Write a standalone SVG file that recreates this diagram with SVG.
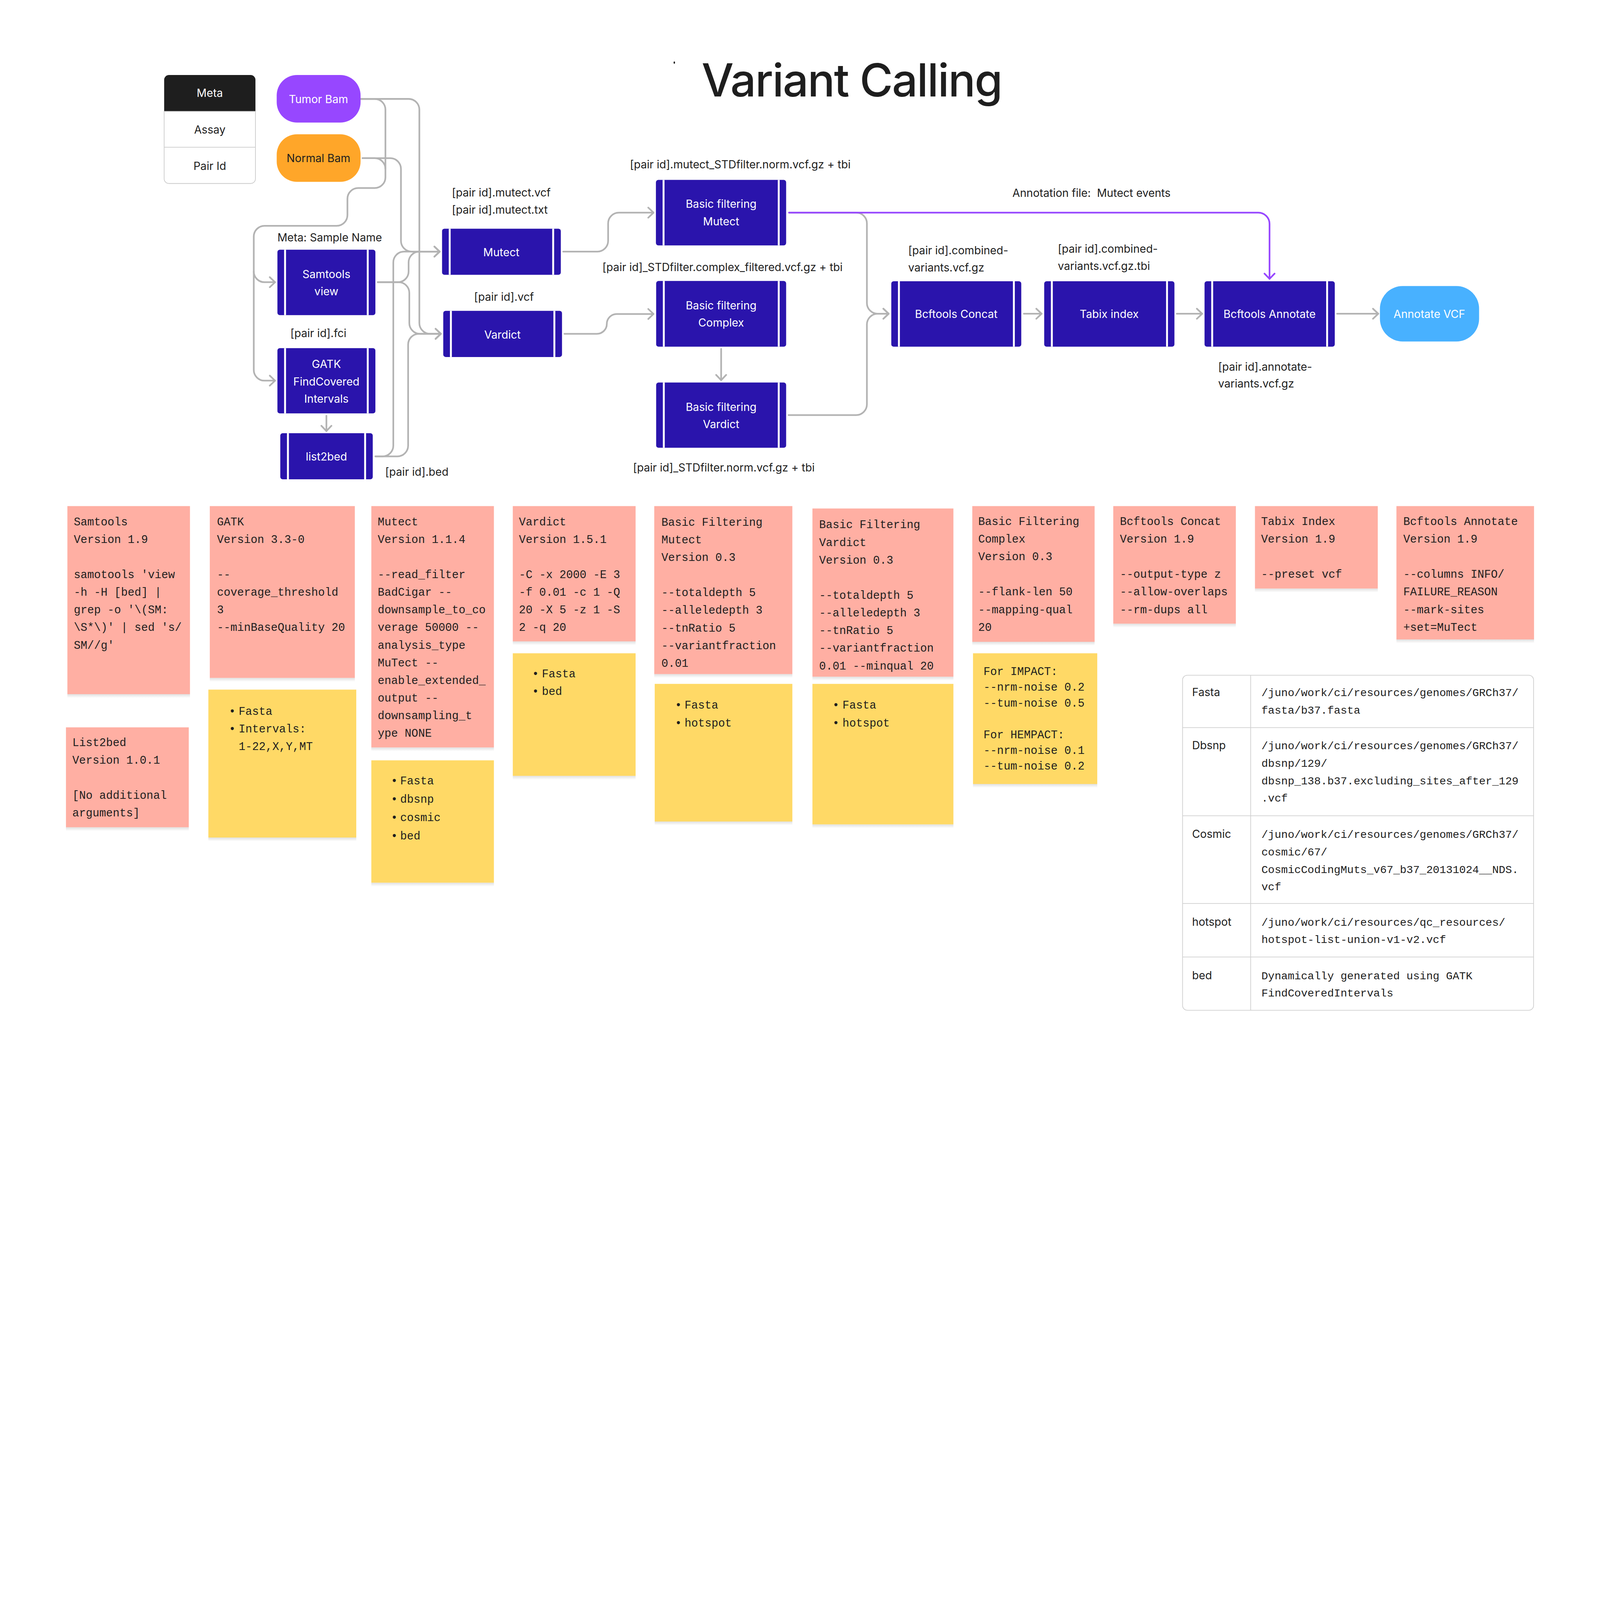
<svg xmlns="http://www.w3.org/2000/svg" width="6696" height="4486" viewBox="0 0 6696 4486" preserveAspectRatio="xMinYMin meet">
<!-- Root is sized to the viewport (100vw x 100vh): identical at a 6696x4486 window; if the window is smaller, the full viewBox is scaled to fit instead of being clipped. -->
<style>
svg{width:100vw;height:100vh;display:block}
.sans{font-family:Inter,"Noto Sans","Liberation Sans",sans-serif}
.lbl{font-family:Inter,"Noto Sans","Liberation Sans",sans-serif;font-size:46px;fill:#1E1E1E}
.nt{font-family:Inter,"Noto Sans","Liberation Sans",sans-serif;font-size:46px;fill:#FFFFFF;text-anchor:middle}
.mono{font-family:"Liberation Mono","DejaVu Sans Mono",monospace;font-size:47px;fill:#1E1E1E;white-space:pre}
.tm{font-family:"Liberation Mono","DejaVu Sans Mono",monospace;font-size:46px;fill:#1E1E1E;white-space:pre}
.pink{fill:#FFAFA3}
.yel{fill:#FFD966}
.shd{fill:url(#shg)}
.proc{fill:#2A14AC}
.bar{stroke:#FFFFFF;stroke-width:8}
.cn{fill:none;stroke:#B3B3B3;stroke-width:7;stroke-linecap:round;stroke-linejoin:round;marker-end:url(#arr)}
.cnn{fill:none;stroke:#B3B3B3;stroke-width:7;stroke-linecap:round;stroke-linejoin:round}
.cp{fill:none;stroke:#9747FF;stroke-width:7;stroke-linecap:round;stroke-linejoin:round;marker-end:url(#arrp)}
.grid{stroke:#D0D0D0;stroke-width:3;fill:none}
</style>
<defs>
<linearGradient id="shg" x1="0" y1="0" x2="0" y2="1">
<stop offset="0" stop-color="#000000" stop-opacity="0.12"/>
<stop offset="1" stop-color="#000000" stop-opacity="0"/>
</linearGradient>
<marker id="arr" viewBox="-27 -26 31 52" refX="0" refY="0" markerWidth="31" markerHeight="52" markerUnits="userSpaceOnUse" orient="auto">
<path d="M-22,-21 L0,0 L-22,21" fill="none" stroke="#B3B3B3" stroke-width="7" stroke-linecap="round" stroke-linejoin="round"/>
</marker>
<marker id="arrp" viewBox="-27 -26 31 52" refX="0" refY="0" markerWidth="31" markerHeight="52" markerUnits="userSpaceOnUse" orient="auto">
<path d="M-22,-21 L0,0 L-22,21" fill="none" stroke="#9747FF" stroke-width="7" stroke-linecap="round" stroke-linejoin="round"/>
</marker>
</defs>
<rect x="0" y="0" width="6696" height="4486" fill="#FFFFFF"/>

<g id="title">
<ellipse cx="2822" cy="262" rx="3" ry="5" fill="#1E1E1E"/>
<text class="sans" x="2936" y="403" font-size="190" font-weight="500" letter-spacing="-4" fill="#1E1E1E">Variant Calling</text>
</g>

<g id="meta-table">
<path d="M687,466 V334 A20,20 0 0 1 707,314 H1049 A20,20 0 0 1 1069,334 V466 Z" fill="#1E1E1E"/>
<path d="M687,466 H1069 V748 A20,20 0 0 1 1049,768 H707 A20,20 0 0 1 687,748 Z" fill="#FFFFFF" stroke="#CCCCCC" stroke-width="3"/>
<line x1="687" y1="616" x2="1069" y2="616" stroke="#CCCCCC" stroke-width="3"/>
<text class="nt" x="878" y="406">Meta</text>
<text class="lbl" x="878" y="559" text-anchor="middle" fill="#333333">Assay</text>
<text class="lbl" x="878" y="711" text-anchor="middle" fill="#333333">Pair Id</text>
</g>

<g id="connectors">
<path class="cn" d="M1509,414 H1568 A45,45 0 0 1 1613,459 V742 A45,45 0 0 1 1568,787 H1499 A45,45 0 0 0 1454,832 V900 A45,45 0 0 1 1409,945 H1107 A45,45 0 0 0 1062,990 V1548 A45,45 0 0 0 1107,1593 H1151"/>
<path class="cn" d="M1062,1136 A45,45 0 0 0 1107,1181 H1151"/>
<path class="cnn" d="M1517,662 H1568 A45,45 0 0 1 1613,707"/>
<path class="cn" d="M1517,662 H1633 A45,45 0 0 1 1678,707 V1008 A45,45 0 0 0 1723,1053 H1840"/>
<path class="cn" d="M1509,414 H1710 A45,45 0 0 1 1755,459 V1352 A45,45 0 0 0 1800,1397 H1845"/>
<path class="cn" d="M1581,1181 H1665 A45,45 0 0 0 1710,1136 V1098 A45,45 0 0 1 1755,1053 H1840"/>
<path class="cn" d="M1581,1181 H1668 A45,45 0 0 1 1713,1226 V1352 A45,45 0 0 0 1758,1397 H1845"/>
<path class="cn" d="M1571,1910 H1601 A45,45 0 0 0 1646,1865 V1098 A45,45 0 0 1 1691,1053 H1840"/>
<path class="cn" d="M1571,1910 H1663 A45,45 0 0 0 1708,1865 V1442 A45,45 0 0 1 1753,1397 H1845"/>
<path class="cn" d="M1366,1740 V1804"/>
<path class="cn" d="M2357,1053 H2500 A45,45 0 0 0 2545,1008 V935 A45,45 0 0 1 2590,890 H2735"/>
<path class="cn" d="M2362,1397 H2498 A41.5,41.5 0 0 0 2539.5,1355.5 A41.5,41.5 0 0 1 2581,1314 H2735"/>
<path class="cn" d="M3018,1460 V1591"/>
<path class="cn" d="M3302,890 H3583 A45,45 0 0 1 3628,935 V1268 A45,45 0 0 0 3673,1313 H3719"/>
<path class="cn" d="M3300,1737 H3583 A45,45 0 0 0 3628,1692 V1358 A45,45 0 0 1 3673,1313 H3719"/>
<path class="cn" d="M4285,1313 H4359"/>
<path class="cn" d="M4925,1313 H5031"/>
<path class="cn" d="M5596,1313 H5768"/>
<path class="cp" d="M3302,890 H5266 A47,47 0 0 1 5313,937 V1167"/>
</g>

<g id="tumor-bam">
<rect x="1158" y="314" width="351" height="199" rx="85" fill="#9747FF"/>
<text class="nt" x="1333" y="431">Tumor Bam</text>
</g>
<g id="normal-bam">
<rect x="1158" y="562" width="351" height="199" rx="85" fill="#FFA629"/>
<text class="lbl" x="1333" y="679" text-anchor="middle">Normal Bam</text>
</g>

<g id="samtools-view">
<rect class="proc" x="1161" y="1045" width="410" height="274" rx="10"/>
<line class="bar" x1="1193" y1="1045" x2="1193" y2="1319"/><line class="bar" x1="1539" y1="1045" x2="1539" y2="1319"/>
<text class="nt" x="1366" y="1164">Samtools</text><text class="nt" x="1366" y="1236">view</text>
</g>
<g id="gatk">
<rect class="proc" x="1161" y="1457" width="410" height="273" rx="10"/>
<line class="bar" x1="1193" y1="1457" x2="1193" y2="1730"/><line class="bar" x1="1539" y1="1457" x2="1539" y2="1730"/>
<text class="nt" x="1366" y="1540">GATK</text><text class="nt" x="1366" y="1613">FindCovered</text><text class="nt" x="1366" y="1686">Intervals</text>
</g>
<g id="list2bed">
<rect class="proc" x="1173" y="1813" width="387" height="193" rx="10"/>
<line class="bar" x1="1205" y1="1813" x2="1205" y2="2006"/><line class="bar" x1="1528" y1="1813" x2="1528" y2="2006"/>
<text class="nt" x="1366" y="1928">list2bed</text>
</g>
<g id="mutect">
<rect class="proc" x="1850" y="957" width="497" height="193" rx="10"/>
<line class="bar" x1="1882" y1="957" x2="1882" y2="1150"/><line class="bar" x1="2315" y1="957" x2="2315" y2="1150"/>
<text class="nt" x="2098" y="1073">Mutect</text>
</g>
<g id="vardict">
<rect class="proc" x="1855" y="1301" width="497" height="193" rx="10"/>
<line class="bar" x1="1887" y1="1301" x2="1887" y2="1494"/><line class="bar" x1="2320" y1="1301" x2="2320" y2="1494"/>
<text class="nt" x="2103" y="1417">Vardict</text>
</g>
<g id="bf-mutect">
<rect class="proc" x="2745" y="753" width="545" height="274" rx="10"/>
<line class="bar" x1="2777" y1="753" x2="2777" y2="1027"/><line class="bar" x1="3259" y1="753" x2="3259" y2="1027"/>
<text class="nt" x="3018" y="870">Basic filtering</text><text class="nt" x="3018" y="943">Mutect</text>
</g>
<g id="bf-complex">
<rect class="proc" x="2746" y="1176" width="544" height="275" rx="10"/>
<line class="bar" x1="2778" y1="1176" x2="2778" y2="1451"/><line class="bar" x1="3259" y1="1176" x2="3259" y2="1451"/>
<text class="nt" x="3018" y="1295">Basic filtering</text><text class="nt" x="3018" y="1367">Complex</text>
</g>
<g id="bf-vardict">
<rect class="proc" x="2746" y="1601" width="544" height="273" rx="10"/>
<line class="bar" x1="2778" y1="1601" x2="2778" y2="1874"/><line class="bar" x1="3259" y1="1601" x2="3259" y2="1874"/>
<text class="nt" x="3018" y="1720">Basic filtering</text><text class="nt" x="3018" y="1792">Vardict</text>
</g>
<g id="bcftools-concat">
<rect class="proc" x="3730" y="1177" width="544" height="274" rx="10"/>
<line class="bar" x1="3762" y1="1177" x2="3762" y2="1451"/><line class="bar" x1="4243" y1="1177" x2="4243" y2="1451"/>
<text class="nt" x="4002" y="1331">Bcftools Concat</text>
</g>
<g id="tabix-index">
<rect class="proc" x="4370" y="1177" width="545" height="274" rx="10"/>
<line class="bar" x1="4402" y1="1177" x2="4402" y2="1451"/><line class="bar" x1="4884" y1="1177" x2="4884" y2="1451"/>
<text class="nt" x="4642" y="1331">Tabix index</text>
</g>
<g id="bcftools-annotate">
<rect class="proc" x="5041" y="1177" width="545" height="274" rx="10"/>
<line class="bar" x1="5073" y1="1177" x2="5073" y2="1451"/><line class="bar" x1="5554" y1="1177" x2="5554" y2="1451"/>
<text class="nt" x="5313" y="1331">Bcftools Annotate</text>
</g>
<g id="annotate-vcf">
<rect x="5775" y="1197" width="415" height="232" rx="95" fill="#48B1FF"/>
<text class="nt" x="5982" y="1331">Annotate VCF</text>
</g>

<g id="labels">
<text class="lbl" x="1161" y="1011">Meta: Sample Name</text>
<text class="lbl" x="1215" y="1411">[pair id].fci</text>
<text class="lbl" x="1612" y="1991">[pair id].bed</text>
<text class="lbl" x="1891" y="822">[pair id].mutect.vcf</text>
<text class="lbl" x="1891" y="894">[pair id].mutect.txt</text>
<text class="lbl" x="1984" y="1259">[pair id].vcf</text>
<text class="lbl" x="2636" y="704">[pair id].mutect_STDfilter.norm.vcf.gz + tbi</text>
<text class="lbl" x="2521" y="1134">[pair id]_STDfilter.complex_filtered.vcf.gz + tbi</text>
<text class="lbl" x="2649" y="1973">[pair id]_STDfilter.norm.vcf.gz + tbi</text>
<text class="lbl" x="4237" y="824" style="white-space:pre">Annotation file:  Mutect events</text>
<text class="lbl" x="3801" y="1064">[pair id].combined-</text>
<text class="lbl" x="3801" y="1136">variants.vcf.gz</text>
<text class="lbl" x="4427" y="1058">[pair id].combined-</text>
<text class="lbl" x="4427" y="1130">variants.vcf.gz.tbi</text>
<text class="lbl" x="5098" y="1551">[pair id].annotate-</text>
<text class="lbl" x="5098" y="1622">variants.vcf.gz</text>
</g>

<g id="note-samtools">
<rect class="shd" x="282" y="2905" width="513" height="16"/>
<rect class="pink" x="282" y="2118" width="513" height="787"/>
<text class="mono" y="2198"><tspan x="309">Samtools</tspan><tspan x="309" dy="73.8">Version 1.9</tspan><tspan x="309" dy="147.6">samotools 'view</tspan><tspan x="309" dy="73.8">-h -H [bed] |</tspan><tspan x="309" dy="73.8">grep -o '\(SM:</tspan><tspan x="309" dy="73.8">\S*\)' | sed 's/</tspan><tspan x="309" dy="73.8">SM//g'</tspan></text>
</g>
<g id="note-list2bed">
<rect class="shd" x="276" y="3462" width="514" height="16"/>
<rect class="pink" x="276" y="3044" width="514" height="418"/>
<text class="mono" y="3122"><tspan x="303">List2bed</tspan><tspan x="303" dy="73.8">Version 1.0.1</tspan><tspan x="303" dy="147.6">[No additional</tspan><tspan x="303" dy="73.8">arguments]</tspan></text>
</g>
<g id="note-gatk">
<rect class="shd" x="878" y="2837" width="607" height="16"/>
<rect class="pink" x="878" y="2118" width="607" height="719"/>
<text class="mono" y="2198"><tspan x="908">GATK</tspan><tspan x="908" dy="73.8">Version 3.3-0</tspan><tspan x="908" dy="147.6">--</tspan><tspan x="908" dy="73.8">coverage_threshold</tspan><tspan x="908" dy="73.8">3</tspan><tspan x="908" dy="73.8">--minBaseQuality 20</tspan></text>
</g>
<g id="note-gatk-inputs">
<rect class="shd" x="872" y="3505" width="619" height="16"/>
<rect class="yel" x="872" y="2886" width="619" height="619"/>
<text class="mono" y="2991"><tspan x="958">•</tspan><tspan x="999">Fasta</tspan><tspan x="958" dy="74">•</tspan><tspan x="999">Intervals:</tspan><tspan x="999" dy="74">1-22,X,Y,MT</tspan></text>
</g>
<g id="note-mutect">
<rect class="shd" x="1554" y="3128" width="513" height="16"/>
<rect class="pink" x="1554" y="2118" width="513" height="1010"/>
<text class="mono" y="2198"><tspan x="1581">Mutect</tspan><tspan x="1581" dy="73.8">Version 1.1.4</tspan><tspan x="1581" dy="147.6">--read_filter</tspan><tspan x="1581" dy="73.8">BadCigar --</tspan><tspan x="1581" dy="73.8">downsample_to_co</tspan><tspan x="1581" dy="73.8">verage 50000 --</tspan><tspan x="1581" dy="73.8">analysis_type</tspan><tspan x="1581" dy="73.8">MuTect --</tspan><tspan x="1581" dy="73.8">enable_extended_</tspan><tspan x="1581" dy="73.8">output --</tspan><tspan x="1581" dy="73.8">downsampling_t</tspan><tspan x="1581" dy="73.8">ype NONE</tspan></text>
</g>
<g id="note-mutect-inputs">
<rect class="shd" x="1554" y="3694" width="513" height="16"/>
<rect class="yel" x="1554" y="3182" width="513" height="512"/>
<text class="mono" y="3282"><tspan x="1636">•</tspan><tspan x="1675">Fasta</tspan><tspan x="1636" dy="77">•</tspan><tspan x="1675">dbsnp</tspan><tspan x="1636" dy="77">•</tspan><tspan x="1675">cosmic</tspan><tspan x="1636" dy="77">•</tspan><tspan x="1675">bed</tspan></text>
</g>
<g id="note-vardict">
<rect class="shd" x="2146" y="2684" width="514" height="16"/>
<rect class="pink" x="2146" y="2118" width="514" height="566"/>
<text class="mono" y="2198"><tspan x="2172">Vardict</tspan><tspan x="2172" dy="73.8">Version 1.5.1</tspan><tspan x="2172" dy="147.6">-C -x 2000 -E 3</tspan><tspan x="2172" dy="73.8">-f 0.01 -c 1 -Q</tspan><tspan x="2172" dy="73.8">20 -X 5 -z 1 -S</tspan><tspan x="2172" dy="73.8">2 -q 20</tspan></text>
</g>
<g id="note-vardict-inputs">
<rect class="shd" x="2146" y="3247" width="514" height="16"/>
<rect class="yel" x="2146" y="2734" width="514" height="513"/>
<text class="mono" y="2835"><tspan x="2227">•</tspan><tspan x="2268">Fasta</tspan><tspan x="2227" dy="74">•</tspan><tspan x="2268">bed</tspan></text>
</g>
<g id="note-bf-mutect">
<rect class="shd" x="2738" y="2821" width="578" height="16"/>
<rect class="pink" x="2738" y="2118" width="578" height="703"/>
<text class="mono" y="2200"><tspan x="2768">Basic Filtering</tspan><tspan x="2768" dy="73.8">Mutect</tspan><tspan x="2768" dy="73.8">Version 0.3</tspan><tspan x="2768" dy="147.6">--totaldepth 5</tspan><tspan x="2768" dy="73.8">--alleledepth 3</tspan><tspan x="2768" dy="73.8">--tnRatio 5</tspan><tspan x="2768" dy="73.8">--variantfraction</tspan><tspan x="2768" dy="73.8">0.01</tspan></text>
</g>
<g id="note-bf-mutect-inputs">
<rect class="shd" x="2740" y="3438" width="576" height="16"/>
<rect class="yel" x="2740" y="2862" width="576" height="576"/>
<text class="mono" y="2966"><tspan x="2825">•</tspan><tspan x="2865">Fasta</tspan><tspan x="2825" dy="74">•</tspan><tspan x="2865">hotspot</tspan></text>
</g>
<g id="note-bf-vardict">
<rect class="shd" x="3400" y="2832" width="590" height="16"/>
<rect class="pink" x="3400" y="2128" width="590" height="704"/>
<text class="mono" y="2211"><tspan x="3428">Basic Filtering</tspan><tspan x="3428" dy="73.8">Vardict</tspan><tspan x="3428" dy="73.8">Version 0.3</tspan><tspan x="3428" dy="147.6">--totaldepth 5</tspan><tspan x="3428" dy="73.8">--alleledepth 3</tspan><tspan x="3428" dy="73.8">--tnRatio 5</tspan><tspan x="3428" dy="73.8">--variantfraction</tspan><tspan x="3428" dy="73.8">0.01 --minqual 20</tspan></text>
</g>
<g id="note-bf-vardict-inputs">
<rect class="shd" x="3400" y="3450" width="590" height="16"/>
<rect class="yel" x="3400" y="2862" width="590" height="588"/>
<text class="mono" y="2966"><tspan x="3484">•</tspan><tspan x="3526">Fasta</tspan><tspan x="3484" dy="74">•</tspan><tspan x="3526">hotspot</tspan></text>
</g>
<g id="note-bf-complex">
<rect class="shd" x="4069" y="2686" width="512" height="16"/>
<rect class="pink" x="4069" y="2118" width="512" height="568"/>
<text class="mono" y="2197"><tspan x="4094">Basic Filtering</tspan><tspan x="4094" dy="73.8">Complex</tspan><tspan x="4094" dy="73.8">Version 0.3</tspan><tspan x="4094" dy="147.6">--flank-len 50</tspan><tspan x="4094" dy="73.8">--mapping-qual</tspan><tspan x="4094" dy="73.8">20</tspan></text>
</g>
<g id="note-bf-complex-params">
<rect class="shd" x="4072" y="3281" width="520" height="16"/>
<rect class="yel" x="4072" y="2734" width="520" height="547"/>
<text class="mono" y="2825" font-size="43"><tspan x="4116">For IMPACT:</tspan><tspan x="4116" dy="66">--nrm-noise 0.2</tspan><tspan x="4116" dy="66">--tum-noise 0.5</tspan><tspan x="4116" dy="132">For HEMPACT:</tspan><tspan x="4116" dy="66">--nrm-noise 0.1</tspan><tspan x="4116" dy="66">--tum-noise 0.2</tspan></text>
</g>
<g id="note-bcftools-concat">
<rect class="shd" x="4659" y="2610" width="513" height="16"/>
<rect class="pink" x="4659" y="2118" width="513" height="492"/>
<text class="mono" y="2197"><tspan x="4687">Bcftools Concat</tspan><tspan x="4687" dy="73.8">Version 1.9</tspan><tspan x="4687" dy="147.6">--output-type z</tspan><tspan x="4687" dy="73.8">--allow-overlaps</tspan><tspan x="4687" dy="73.8">--rm-dups all</tspan></text>
</g>
<g id="note-tabix">
<rect class="shd" x="5252" y="2463" width="514" height="16"/>
<rect class="pink" x="5252" y="2118" width="514" height="345"/>
<text class="mono" y="2197"><tspan x="5278">Tabix Index</tspan><tspan x="5278" dy="73.8">Version 1.9</tspan><tspan x="5278" dy="147.6">--preset vcf</tspan></text>
</g>
<g id="note-bcftools-annotate">
<rect class="shd" x="5844" y="2676" width="576" height="16"/>
<rect class="pink" x="5844" y="2118" width="576" height="558"/>
<text class="mono" y="2197"><tspan x="5873">Bcftools Annotate</tspan><tspan x="5873" dy="73.8">Version 1.9</tspan><tspan x="5873" dy="147.6">--columns INFO/</tspan><tspan x="5873" dy="73.8">FAILURE_REASON</tspan><tspan x="5873" dy="73.8">--mark-sites</tspan><tspan x="5873" dy="73.8">+set=MuTect</tspan></text>
</g>

<g id="resources-table">
<rect x="4949" y="2826" width="1469" height="1402" rx="20" fill="#FFFFFF" stroke="#D0D0D0" stroke-width="3"/>
<line class="grid" x1="5234" y1="2826" x2="5234" y2="4228"/>
<line class="grid" x1="4949" y1="3045" x2="6418" y2="3045"/>
<line class="grid" x1="4949" y1="3414" x2="6418" y2="3414"/>
<line class="grid" x1="4949" y1="3781" x2="6418" y2="3781"/>
<line class="grid" x1="4949" y1="4005" x2="6418" y2="4005"/>
<text class="lbl" x="4989" y="2913">Fasta</text>
<text class="lbl" x="4989" y="3136">Dbsnp</text>
<text class="lbl" x="4989" y="3507">Cosmic</text>
<text class="lbl" x="4989" y="3874">hotspot</text>
<text class="lbl" x="4989" y="4098">bed</text>
<text class="tm" y="2913"><tspan x="5279">/juno/work/ci/resources/genomes/GRCh37/</tspan><tspan x="5279" dy="73">fasta/b37.fasta</tspan></text>
<text class="tm" y="3136"><tspan x="5279">/juno/work/ci/resources/genomes/GRCh37/</tspan><tspan x="5279" dy="73">dbsnp/129/</tspan><tspan x="5279" dy="73">dbsnp_138.b37.excluding_sites_after_129</tspan><tspan x="5279" dy="73">.vcf</tspan></text>
<text class="tm" y="3507"><tspan x="5279">/juno/work/ci/resources/genomes/GRCh37/</tspan><tspan x="5279" dy="73">cosmic/67/</tspan><tspan x="5279" dy="73">CosmicCodingMuts_v67_b37_20131024__NDS.</tspan><tspan x="5279" dy="73">vcf</tspan></text>
<text class="tm" y="3874"><tspan x="5279">/juno/work/ci/resources/qc_resources/</tspan><tspan x="5279" dy="73">hotspot-list-union-v1-v2.vcf</tspan></text>
<text class="tm" y="4098"><tspan x="5279">Dynamically generated using GATK</tspan><tspan x="5279" dy="72">FindCoveredIntervals</tspan></text>
</g>
</svg>
